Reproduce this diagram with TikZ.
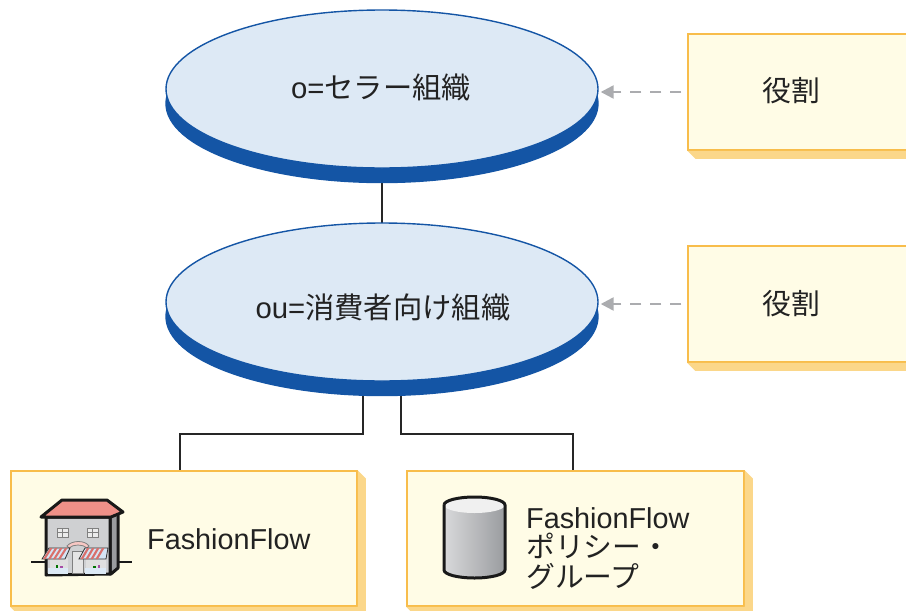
\documentclass[tikz,border=0pt]{standalone}
\usepackage{fontspec}
\setmainfont{Liberation Sans}
\newfontfamily\cjk{Noto Sans CJK JP}
\usetikzlibrary{shapes.geometric,arrows.meta,calc}
\definecolor{ellfill}{HTML}{DDE9F5}
\definecolor{ellblue}{HTML}{1455A5}
\definecolor{boxfill}{HTML}{FFFCE6}
\definecolor{boxline}{HTML}{F8BD4B}
\definecolor{boxshadow}{HTML}{FBD78A}
\definecolor{arrowgray}{HTML}{ABACAF}
\definecolor{txt}{HTML}{222222}
\definecolor{roof}{HTML}{EF9088}
\definecolor{wall}{HTML}{CFD0D2}
\definecolor{sidewall}{HTML}{9A9C9F}
\definecolor{awnred}{HTML}{D9706C}
\definecolor{awnblue}{HTML}{D5E5F5}
\definecolor{win}{HTML}{DCE9F5}
\tikzset{
  ellbase/.style={ellipse,draw=ellblue,line width=1.4pt,minimum width=432pt,minimum height=158pt,inner sep=0pt},
  elltop/.style={ellbase,fill=ellfill,text=txt},
  ellshade/.style={ellbase,fill=ellblue},
  rolebox/.style={rectangle,draw=boxline,fill=boxfill,line width=1.5pt,minimum width=300pt,minimum height=116pt,inner sep=0pt},
  itembox/.style={rectangle,draw=boxline,fill=boxfill,line width=1.5pt,minimum height=135pt,inner sep=0pt},
  boxshade/.style={fill=boxshadow},
  lbl/.style={text=txt,font=\fontsize{28.8}{32}\selectfont,inner sep=0pt},
  elllbl/.style={lbl,font=\fontsize{29.3}{32}\selectfont},
  conn/.style={draw=black!85,line width=1.4pt},
  depend/.style={draw=arrowgray,line width=2.4pt,dash pattern=on 11pt off 9pt,
     -{Triangle[length=13pt,width=13pt,fill=arrowgray]}},
  icon/.style={line width=3pt,draw=black!90,line join=round}
}
\begin{document}
\begin{tikzpicture}[x=1pt,y=-1pt]
\useasboundingbox (0,0) rectangle (906,611);
\clip (0,0) rectangle (906,611);

\coordinate (tapA) at (363,390);
\coordinate (tapB) at (401,390);
\coordinate (bend) at (0,434);

% role boxes
\node[rolebox] (role1) at (838,92) {};
\node[rolebox] (role2) at (838,304) {};
\node[lbl] (role1T) at (791,91) {\cjk 役割};
\node[lbl] (role2T) at (791,304) {\cjk 役割};

% item boxes
\node[itembox,minimum width=346pt] (store) at (184,538.5) {};
\node[itembox,minimum width=337pt] (policy) at (575.5,538.5) {};
\node[lbl,anchor=west] (storeT) at (147,539) {FashionFlow};
\node[lbl,anchor=north west,align=left,font=\fontsize{28.8}{29.8}\selectfont] (policyT) at (526,507) {FashionFlow\\{\cjk ポリシー・}\\{\cjk グループ}};

% box shadows
\fill[boxshade] (role1.south west) -- ++(8,8) -- ($(role1.south east)+(8,8)$) -- (role1.south east) -- cycle;
\fill[boxshade] (role2.south west) -- ++(8,8) -- ($(role2.south east)+(8,8)$) -- (role2.south east) -- cycle;
\fill[boxshade] (store.north east) -- ++(8,8) -- ($(store.south east)+(8,8)$) -- ($(store.south west)+(8,8)$) -- (store.south west) -- (store.south east) -- cycle;
\fill[boxshade] (policy.north east) -- ++(8,8) -- ($(policy.south east)+(8,8)$) -- ($(policy.south west)+(8,8)$) -- (policy.south west) -- (policy.south east) -- cycle;

% connectors
\draw[conn] (382,170) coordinate (tapO) -- (382,224) coordinate (tapU);
\draw[conn] (tapA) -- (tapA |- bend) -- (180,434) coordinate (kneeA) -- (kneeA |- store.north);
\draw[conn] (tapB) -- (tapB |- bend) -- (573,434) coordinate (kneeB) -- (kneeB |- policy.north);

% ellipses
\node[ellshade] (orgS) at (382,103.5) {};
\node[elltop]   (org)  at (382,89) {};
\node[elllbl] (orgT) at (381,87) {o={\cjk セラー組織}};
\node[ellshade] (ouS) at (382,316.5) {};
\node[elltop]   (ou)  at (382,302) {};
\node[elllbl] (ouT) at (383,307) {ou={\cjk 消費者向け組織}};

\draw[depend] ([xshift=-6pt]role1.west) -- ([xshift=2pt]role1.west -| org.east);
\draw[depend] ([xshift=-6pt]role2.west) -- ([xshift=2pt]role2.west -| ou.east);

% store icon
\draw[icon,line width=1.4pt] (31,562) -- (132,562);
\fill[sidewall,icon] (110,517) -- (118,512) -- (118,568) -- (111,574) -- (110,574) -- cycle;
\fill[wall,icon] (46,517) -- (110,517) -- (110,574) -- (46,575) -- cycle;
\fill[roof,icon] (62,500) -- (107,500) -- (123,512) -- (111,517) -- (41,517) -- cycle;
\foreach \wx in {57,87}{
  \fill[white!85!gray,draw=gray,line width=.6pt] (\wx,528) rectangle ++(11.5,9.5);
  \draw[gray,line width=.6pt] (\wx+5.75,528) -- ++(0,9.5) (\wx,532.75) -- ++(11.5,0);
}
\draw[line width=.8pt,draw=gray,fill=roof!50] (67,546) .. controls (72,540) and (85,540) .. (89,546) -- (87,548) .. controls (83,544) and (73,544) .. (69,548) -- cycle;
\fill[white!80!gray,draw=gray,line width=.8pt] (72,551) rectangle (83,573);
\fill[white!75!gray] (50,558) rectangle (68,568);
\fill[white!75!gray] (86,558) rectangle (106,568);
\fill[win] (48,568) rectangle (68,574);
\fill[win] (85,568) rectangle (106,574);
\fill[green!45!black] (56,565) rectangle (58,568);
\fill[violet!70] (60,566) rectangle (63,568);
\fill[violet!70] (98,565) rectangle (100,568);
\fill[green!45!black] (93,566) rectangle (96,568);
\fill[awnblue,draw=black!80,line width=.8pt] (42,559) -- (49,548) -- (70,548) -- (65,559) -- cycle;
\fill[awnblue,draw=black!80,line width=.8pt] (79,559) -- (85,548) -- (108,548) -- (106,559) -- cycle;
\foreach \s in {0,5,10,15}{
  \fill[awnred] (43+\s,559) -- (50+\s,548) -- (52.5+\s,548) -- (45.5+\s,559) -- cycle;
  \fill[awnred] (80.5+\s,559) -- (87+\s,548) -- (89.5+\s,548) -- (83+\s,559) -- cycle;
}

% cylinder icon
\shade[left color=wall!80!white,right color=sidewall] (444,505) -- (444,570) arc[start angle=180,end angle=0,x radius=30.5,y radius=8] -- (505,505) -- cycle;
\fill[white!88!gray] (474.5,505) ellipse[x radius=30.5,y radius=8];
\draw[icon] (444,505) -- (444,570) arc[start angle=180,end angle=0,x radius=30.5,y radius=8] -- (505,505) arc[start angle=0,end angle=-180,x radius=30.5,y radius=8];
\end{tikzpicture}
\end{document}
